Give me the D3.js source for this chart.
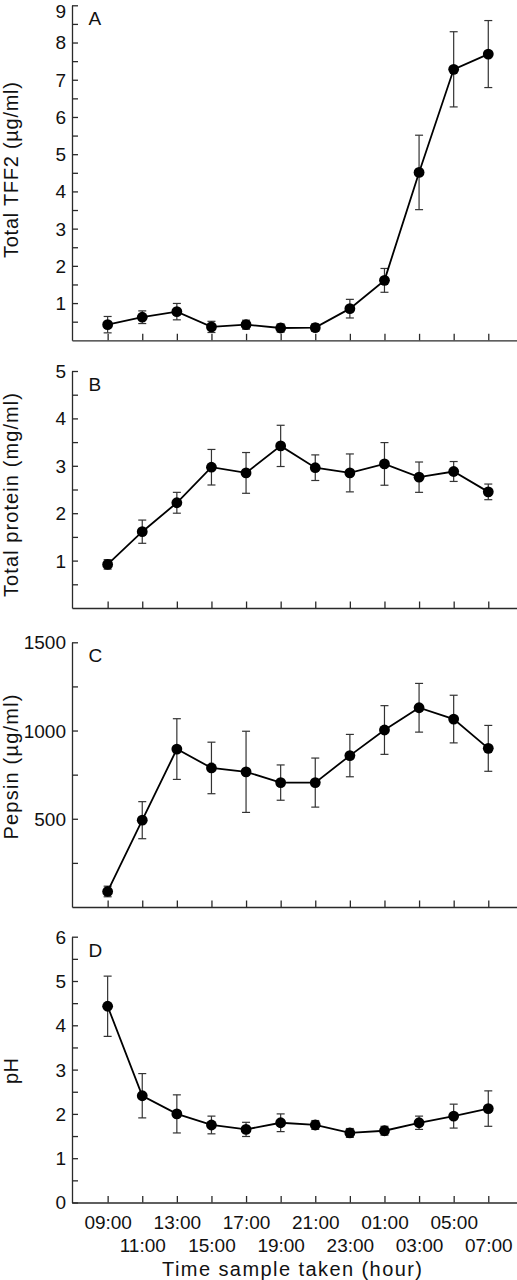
<!DOCTYPE html>
<html>
<head>
<meta charset="utf-8">
<script src="https://cdn.jsdelivr.net/npm/d3@7"></script>
<style>
  html, body { margin: 0; padding: 0; background: #fff; }
  svg { display: block; }
  text { font-family: "Liberation Sans", Arial, Helvetica, sans-serif; fill: #111; }
</style>
</head>
<body>
<svg id="chart" width="517" height="1280"></svg>
<script>
// ---------- data ----------
const times = ["09:00","11:00","13:00","15:00","17:00","19:00","21:00","23:00","01:00","03:00","05:00","07:00"];

const tff2Mean = [0.42, 0.62, 0.77, 0.36, 0.42, 0.33, 0.34, 0.85, 1.61, 4.51, 7.28, 7.69];
const tff2Err  = [0.22, 0.17, 0.22, 0.15, 0.12, 0.11, 0.10, 0.25, 0.32, 1.00, 1.01, 0.90];

const proteinMean = [0.92, 1.61, 2.22, 2.97, 2.85, 3.42, 2.96, 2.85, 3.04, 2.76, 2.88, 2.45];
const proteinErr  = [0.10, 0.245, 0.22, 0.375, 0.43, 0.435, 0.27, 0.40, 0.45, 0.32, 0.21, 0.165];

const pepsinMean = [88, 492, 895, 788, 766, 705, 705, 858, 1003, 1129, 1065, 899];
const pepsinErr  = [30, 105, 172, 146, 230, 100, 139, 120, 138, 138, 135, 130];

const phMean = [4.43, 2.41, 2.00, 1.75, 1.65, 1.80, 1.75, 1.57, 1.62, 1.80, 1.95, 2.12];
const phErr  = [0.68, 0.50, 0.43, 0.20, 0.16, 0.20, 0.10, 0.10, 0.10, 0.15, 0.27, 0.40];

const tff2Ticks = [1, 2, 3, 4, 5, 6, 7, 8, 9];
const tff2Minor = [0.5, 1.5, 2.5, 3.5, 4.5, 5.5, 6.5, 7.5, 8.5];
const proteinTicks = [1, 2, 3, 4, 5];
const proteinMinor = [0.5, 1.5, 2.5, 3.5, 4.5];
const pepsinTicks = [500, 1000, 1500];
const pepsinMinor = [250, 750, 1250];
const phTicks = [0, 1, 2, 3, 4, 5, 6];
const phMinor = [0.5, 1.5, 2.5, 3.5, 4.5, 5.5];

const yTitles = ["Total TFF2 (\u00b5g/ml)", "Total protein (mg/ml)", "Pepsin (\u00b5g/ml)", "pH"];
const panelLetters = ["A", "B", "C", "D"];
const xTitle = "Time sample taken (hour)";

// ---------- layout ----------
const svg = d3.select("#chart");
const axisX0 = 72, axisX1 = 517;
const x = d3.scaleLinear().domain([-1.03, 11.83]).range([axisX0, axisX1]);

const panels = [
  { mean: tff2Mean, err: tff2Err, domain: [0, 9], range: [340.3, 5.3], ticks: tff2Ticks, minor: tff2Minor,
    title: yTitles[0], letter: panelLetters[0], titleY: 170, titleLen: 176 },
  { mean: proteinMean, err: proteinErr, domain: [0, 5], range: [608, 371], ticks: proteinTicks, minor: proteinMinor,
    title: yTitles[1], letter: panelLetters[1], titleY: 495, titleLen: 204 },
  { mean: pepsinMean, err: pepsinErr, domain: [0, 1500], range: [907, 642.3], ticks: pepsinTicks, minor: pepsinMinor,
    title: yTitles[2], letter: panelLetters[2], titleY: 767, titleLen: 145 },
  { mean: phMean, err: phErr, domain: [0, 6], range: [1202.5, 936.7], ticks: phTicks, minor: phMinor,
    title: yTitles[3], letter: panelLetters[3], titleY: 1071, titleLen: 26 }
];

const axisColor = "#2a2a2a";
const idx = d3.range(times.length);

panels.forEach((p, pi) => {
  const y = d3.scaleLinear().domain(p.domain).range(p.range);
  const g = svg.append("g");
  const isLast = pi === panels.length - 1;

  // y axis (ticks pointing inward)
  const allTicks = p.ticks.concat(p.minor).sort((a, b) => a - b);
  const yAxis = d3.axisLeft(y)
    .tickValues(allTicks)
    .tickSizeInner(-6)
    .tickSizeOuter(0)
    .tickPadding(6)
    .tickFormat(v => p.ticks.includes(v) ? d3.format("d")(v) : "");
  const ya = g.append("g").attr("transform", `translate(${axisX0},0)`).call(yAxis);
  ya.selectAll("path, line").attr("stroke", axisColor).attr("stroke-width", 1.3);
  ya.selectAll("text").attr("font-size", 19).attr("fill", "#111")
    .attr("font-family", "'Liberation Sans', Arial, sans-serif")
    .attr("dy", v => (y(v) < 10 ? "0.62em" : "0.34em"));

  // x axis (ticks pointing inward)
  const xAxis = d3.axisBottom(x)
    .tickValues(idx)
    .tickSizeInner(-6.5)
    .tickSizeOuter(0)
    .tickFormat(i => isLast ? times[i] : "");
  const xa = g.append("g").attr("transform", `translate(0,${p.range[0]})`).call(xAxis);
  xa.selectAll("path, line").attr("stroke", axisColor).attr("stroke-width", 1.3);
  xa.selectAll("text")
    .attr("font-size", 19).attr("fill", "#111")
    .attr("font-family", "'Liberation Sans', Arial, sans-serif")
    .attr("y", (d, i) => i % 2 === 0 ? 19.5 : 42.5)
    .attr("dy", "0.36em");

  // error bars
  const eb = g.append("g").attr("stroke", "#333").attr("stroke-width", 1.2).attr("fill", "none");
  idx.forEach(i => {
    const cx = x(i), yt = y(p.mean[i] + p.err[i]), yb = y(Math.max(p.domain[0], p.mean[i] - p.err[i]));
    eb.append("line").attr("x1", cx).attr("x2", cx).attr("y1", yt).attr("y2", yb);
    eb.append("line").attr("x1", cx - 4).attr("x2", cx + 4).attr("y1", yt).attr("y2", yt);
    eb.append("line").attr("x1", cx - 4).attr("x2", cx + 4).attr("y1", yb).attr("y2", yb);
  });

  // line
  const line = d3.line().x(i => x(i)).y(i => y(p.mean[i]));
  g.append("path").datum(idx).attr("d", line)
    .attr("fill", "none").attr("stroke", "#000").attr("stroke-width", 1.8);

  // markers
  g.selectAll("circle.pt").data(idx).join("circle")
    .attr("cx", i => x(i)).attr("cy", i => y(p.mean[i])).attr("r", 5.4).attr("fill", "#000");

  // panel letter
  g.append("text").attr("x", 88.5).attr("y", p.range[1] + 6.5).attr("dy", "0.72em")
    .attr("font-size", 19).text(p.letter);

  // y title
  g.append("text")
    .attr("transform", `translate(18,${p.titleY}) rotate(-90)`)
    .attr("text-anchor", "middle")
    .attr("font-size", 20)
    .attr("textLength", p.titleLen).attr("lengthAdjust", "spacing")
    .text(p.title);
});

// x title
svg.append("text")
  .attr("x", 292).attr("y", 1269).attr("dy", "0.36em")
  .attr("text-anchor", "middle").attr("font-size", 20)
  .attr("textLength", 260).attr("lengthAdjust", "spacing")
  .text(xTitle);
</script>
</body>
</html>
